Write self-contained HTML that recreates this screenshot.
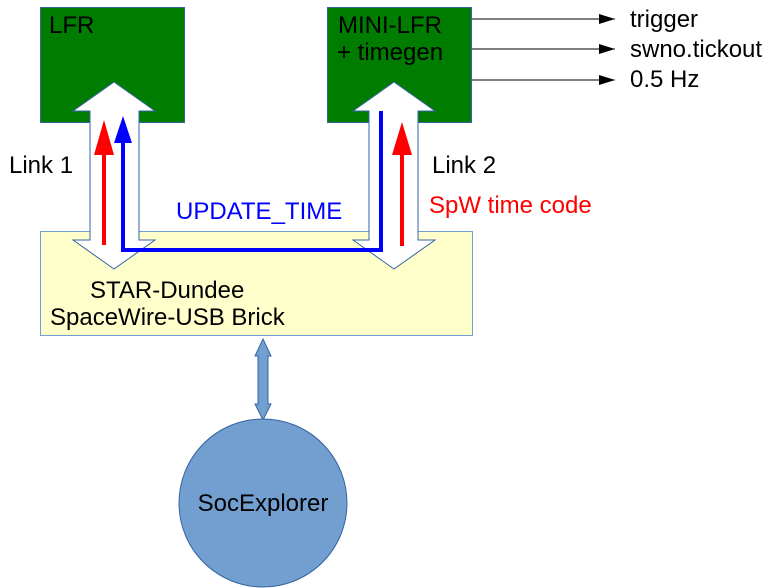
<!DOCTYPE html>
<html><head><meta charset="utf-8"><style>
html,body{margin:0;padding:0;background:#fff;}
svg{display:block;}
text{font-family:"Liberation Sans",sans-serif;font-size:24px;}
</style></head><body>
<svg width="771" height="588" viewBox="0 0 771 588" xmlns="http://www.w3.org/2000/svg">
<defs>
<marker id="ah" markerWidth="16" markerHeight="10" refX="16" refY="5" orient="auto" markerUnits="userSpaceOnUse">
<path d="M0,0 L16,5 L0,10 Z" fill="#000"/></marker>
</defs>
<rect x="40.5" y="7.5" width="144" height="115" fill="#007c00" stroke="#3465a4" stroke-width="1"/>
<rect x="327.5" y="7.5" width="144" height="115" fill="#007c00" stroke="#3465a4" stroke-width="1"/>
<rect x="40.5" y="231.5" width="432" height="104" fill="#ffffcc" stroke="#729fcf" stroke-width="1"/>
<text x="49" y="33">LFR</text>
<text x="338" y="33">MINI-LFR</text>
<text x="337" y="60">+ timegen</text>
<text x="90" y="298">STAR-Dundee</text>
<text x="50" y="325">SpaceWire-USB Brick</text>
<path d="M114,82 L155,111 L139,111 L139,240 L155,240 L114,269 L73,240 L90,240 L90,111 L73,111 Z" fill="#fff" stroke="#3465a4" stroke-width="1"/>
<path d="M394,82 L435,111 L418,111 L418,240 L435,240 L394,269 L353,240 L369,240 L369,111 L353,111 Z" fill="#fff" stroke="#3465a4" stroke-width="1"/>
<line x1="104" y1="245" x2="104" y2="153" stroke="#f00" stroke-width="4"/>
<path d="M104,120 L114,155 L94,155 Z" fill="#f00"/>
<line x1="402" y1="246" x2="402" y2="153" stroke="#f00" stroke-width="4"/>
<path d="M402,122 L412,155 L392,155 Z" fill="#f00"/>
<polyline points="381,111 381,250 123,250 123,141" fill="none" stroke="#00f" stroke-width="4"/>
<path d="M123,116 L132,143 L114,143 Z" fill="#00f"/>
<text x="176" y="219" fill="#00f">UPDATE_TIME</text>
<text x="9" y="173">Link 1</text>
<text x="432" y="173">Link 2</text>
<text x="429" y="213" fill="#f00">SpW time code</text>
<line x1="472" y1="19" x2="615" y2="19" stroke="#000" stroke-width="1" marker-end="url(#ah)"/>
<line x1="472" y1="49" x2="615" y2="49" stroke="#000" stroke-width="1" marker-end="url(#ah)"/>
<line x1="472" y1="80" x2="615" y2="80" stroke="#000" stroke-width="1" marker-end="url(#ah)"/>
<text x="630" y="27">trigger</text>
<text x="630" y="57">swno.tickout</text>
<text x="630" y="87">0.5 Hz</text>
<path d="M263,339 L271,356 L268,356 L268,404 L271,404 L263,420 L255,404 L258,404 L258,356 L255,356 Z" fill="#729fcf" stroke="#3465a4" stroke-width="1"/>
<circle cx="263" cy="503" r="84" fill="#729fcf" stroke="#3465a4" stroke-width="1"/>
<text x="263" y="511" text-anchor="middle">SocExplorer</text>
</svg>
</body></html>
